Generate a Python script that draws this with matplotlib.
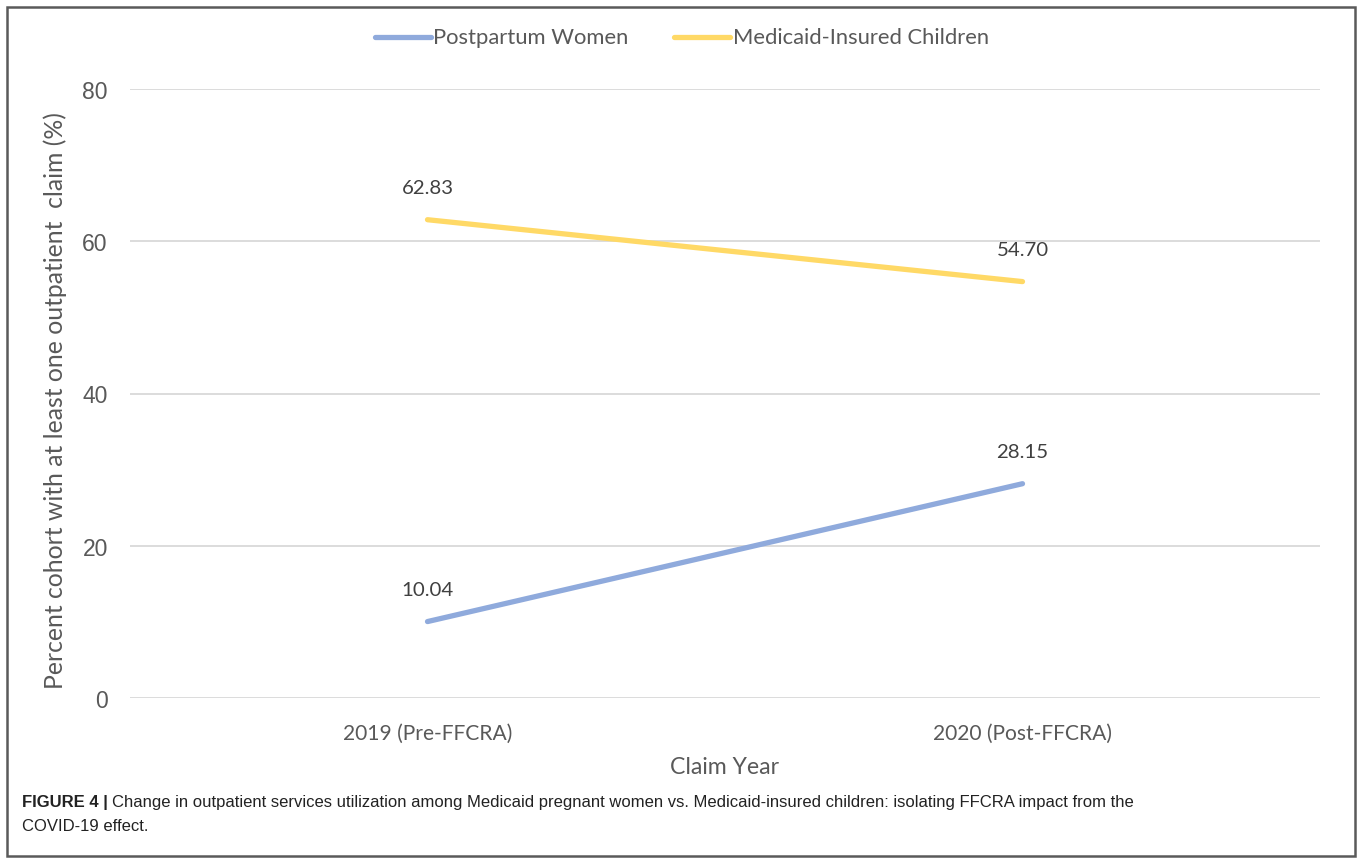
import matplotlib
matplotlib.use("Agg")
import matplotlib.pyplot as plt
from matplotlib.patches import Rectangle
from matplotlib.lines import Line2D

categories = ["2019 (Pre-FFCRA)", "2020 (Post-FFCRA)"]
postpartum = [10.04, 28.15]
children = [62.83, 54.70]
series_names = ["Postpartum Women", "Medicaid-Insured Children"]
yticks = [0, 20, 40, 60, 80]

W, H = 1358, 862
fig = plt.figure(figsize=(W / 100, H / 100), dpi=100)
renderer = fig.canvas.get_renderer()

def fx(px):
    return px / W

def fy(py):
    return 1 - py / H

chart_font = "Lato"

def size_for(s, target_px, family=chart_font, base=20.0):
    t = fig.text(0.5, 0.5, s, fontsize=base, family=family)
    w = t.get_window_extent(renderer=renderer).width
    t.remove()
    return base * target_px / w

ax = fig.add_axes([fx(130), fy(699), fx(1320) - fx(130), fy(90) - fy(699)])
x = list(range(len(categories)))
blue = "#8FAADC"
yellow = "#FFD966"
txt = "#595959"

l1, = ax.plot(x, postpartum, color=blue, lw=3.8, solid_capstyle="round", zorder=3)
l2, = ax.plot(x, children, color=yellow, lw=3.8, solid_capstyle="round", zorder=3)

lab_fs = size_for("62.83", 52)
for ys in (postpartum, children):
    for xi, yi in zip(x, ys):
        ax.annotate(f"{yi:.2f}", (xi, yi), xytext=(0, 23), textcoords="offset points",
                    ha="center", va="center", fontsize=lab_fs, color="#404040",
                    family=chart_font)

ax.set_xlim(-0.5, 1.5)
ax.set_ylim(0, 80)
ax.set_yticks(yticks)
ax.set_yticklabels([str(t) for t in yticks], fontsize=16.5, color=txt, family="Liberation Sans")
ax.set_xticks(x)
cat_fs = size_for(categories[0], 170)
ax.set_xticklabels(categories, fontsize=cat_fs, color=txt, family=chart_font)
ax.tick_params(axis="both", length=0)
ax.tick_params(axis="y", pad=16)
ax.tick_params(axis="x", pad=18)
ax.grid(axis="y", color="#D9D9D9", lw=1.3)
ax.set_axisbelow(True)
for s in ax.spines.values():
    s.set_visible(False)

ylab = "Percent cohort with at least one outpatient  claim (%)"
fig.text(fx(55), fy(401), ylab, rotation=90, ha="center", va="center",
         fontsize=size_for(ylab, 577), color=txt, family=chart_font)
fig.text(fx(725), fy(768), "Claim Year", ha="center", va="center",
         fontsize=size_for("Claim Year", 109), color=txt, family=chart_font)

# legend
leg_fs = size_for(series_names[0], 196)
ly = fy(38)
for (x0, x1, tx), col, name in zip([(375, 431, 433), (674, 730, 733)], [blue, yellow], series_names):
    fig.add_artist(Line2D([fx(x0), fx(x1)], [ly, ly], color=col, lw=3.8,
                          solid_capstyle="round", transform=fig.transFigure))
    fig.text(fx(tx), ly, name, ha="left", va="center", fontsize=leg_fs, color=txt,
             family=chart_font)

# frame
fig.patches.append(Rectangle((fx(7), fy(857)), fx(1355) - fx(7), fy(8) - fy(857),
                             transform=fig.transFigure, fill=False, edgecolor="#5a5a5a",
                             lw=1.8, zorder=10))

# caption
cap_font = "Liberation Sans"
t1 = fig.text(fx(22), fy(803), "FIGURE 4 |", fontsize=12, fontweight="bold",
              family=cap_font, color="#222222", va="center", ha="left")
bb = t1.get_window_extent(renderer=renderer)
fig.text(bb.x1 / W + fx(4), fy(803),
         "Change in outpatient services utilization among Medicaid pregnant women vs. Medicaid-insured children: isolating FFCRA impact from the",
         fontsize=12, family=cap_font, color="#222222", va="center", ha="left")
fig.text(fx(22), fy(827), "COVID-19 effect.", fontsize=12, family=cap_font,
         color="#222222", va="center", ha="left")

fig.savefig("out.png", dpi=100, facecolor="white")
